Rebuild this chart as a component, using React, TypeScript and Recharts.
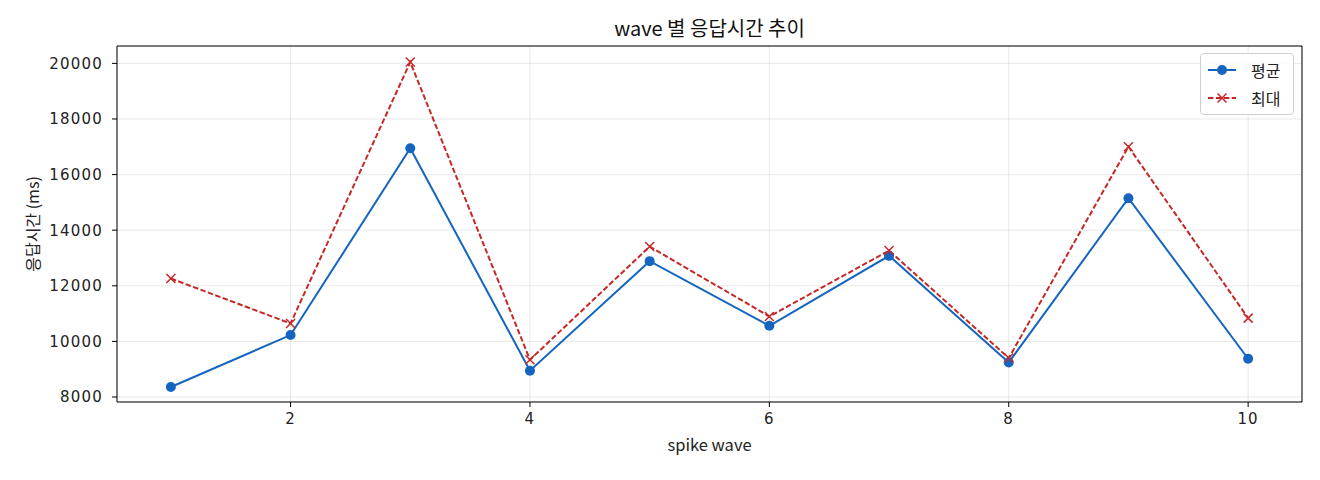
import React from 'react';
import { LineChart, Line, XAxis, YAxis, CartesianGrid, ReferenceLine } from 'recharts';

const waves = [1, 2, 3, 4, 5, 6, 7, 8, 9, 10];
const avgMs = [8359, 10228, 16946, 8945, 12886, 10562, 13077, 9243, 15150, 9376];
const maxMs = [12261, 10644, 20047, 9340, 13411, 10896, 13267, 9401, 17004, 10838];
const xTicks = [2, 4, 6, 8, 10];
const yTicks = [8000, 10000, 12000, 14000, 16000, 18000, 20000];
const xDomain = [0.55, 10.45];
const yDomain = [7820, 20625];

const data = waves.map((w, i) => ({ wave: w, avg: avgMs[i], max: maxMs[i] }));

const BLUE = '#1565C0';
const RED = '#C62828';
const FONT = '"DejaVu Sans", "Noto Sans CJK KR", sans-serif';
const KFONT = '"Noto Sans CJK KR", "DejaVu Sans", sans-serif';

const XDot = (props: any) => {
  const { cx, cy, index } = props;
  if (cx == null || cy == null) return <g key={`x-${index}`} />;
  const s = 4.5;
  return (
    <path
      key={`x-${index}`}
      d={`M${cx - s},${cy - s}L${cx + s},${cy + s}M${cx - s},${cy + s}L${cx + s},${cy - s}`}
      stroke={RED}
      strokeWidth={1.5}
      fill="none"
    />
  );
};

const tickStyle = { fontSize: 15, fill: '#222', fontFamily: FONT, letterSpacing: 1.2 };

export default function App() {
  return (
    <div style={{ position: 'relative', width: 1304, height: 464 }}>
      <div
        style={{
          position: 'absolute',
          left: 109,
          width: 1185,
          top: 7,
          textAlign: 'center',
          fontFamily: KFONT,
          fontSize: 20,
          color: '#111',
          lineHeight: '26px',
        }}
      >
        wave 별 응답시간 추이
      </div>
      <LineChart
        width={1304}
        height={464}
        data={data}
        margin={{ top: 38, right: 10, bottom: 10, left: 9 }}
      >
        <CartesianGrid stroke="#b0b0b0" strokeOpacity={0.35} strokeWidth={0.8} />
        <XAxis
          dataKey="wave"
          type="number"
          domain={xDomain}
          ticks={xTicks}
          allowDataOverflow
          height={60}
          tickSize={5}
          tickMargin={6}
          stroke="#000"
          tick={tickStyle}
          label={{
            value: 'spike wave',
            position: 'insideBottom',
            offset: 11,
            style: { fontSize: 16.5, fill: '#222', fontFamily: KFONT },
          }}
        />
        <YAxis
          type="number"
          domain={yDomain}
          ticks={yTicks}
          allowDataOverflow
          width={100}
          tickSize={5}
          tickMargin={9}
          stroke="#000"
          tick={tickStyle}
          label={{
            value: '응답시간 (ms)',
            angle: -90,
            position: 'insideLeft',
            offset: 16,
            style: { fontSize: 16, fill: '#222', fontFamily: KFONT, textAnchor: 'middle' },
          }}
        />
        <ReferenceLine y={yDomain[1]} stroke="#000" strokeWidth={1} ifOverflow="visible" />
        <ReferenceLine x={xDomain[1]} stroke="#000" strokeWidth={1} ifOverflow="visible" />
        <Line
          dataKey="avg"
          stroke={BLUE}
          strokeWidth={2}
          dot={{ r: 5, fill: BLUE, stroke: BLUE, strokeWidth: 0 }}
          isAnimationActive={false}
        />
        <Line
          dataKey="max"
          stroke={RED}
          strokeWidth={2}
          strokeDasharray="5.5 2.4"
          dot={XDot}
          isAnimationActive={false}
        />
      </LineChart>
      <div
        style={{
          position: 'absolute',
          left: 1192,
          top: 45,
          width: 94,
          height: 62,
          border: '1px solid #d0d0d0',
          borderRadius: 4,
          background: 'rgba(255,255,255,0.85)',
          boxSizing: 'border-box',
          fontFamily: KFONT,
          fontSize: 16,
          color: '#222',
        }}
      >
        <div style={{ position: 'absolute', left: 6, top: 6, height: 20, display: 'flex', alignItems: 'center' }}>
          <svg width={30} height={14}>
            <line x1={1} y1={7} x2={29} y2={7} stroke={BLUE} strokeWidth={2} />
            <circle cx={15} cy={7} r={5} fill={BLUE} />
          </svg>
          <span style={{ marginLeft: 14 }}>평균</span>
        </div>
        <div style={{ position: 'absolute', left: 6, top: 34, height: 20, display: 'flex', alignItems: 'center' }}>
          <svg width={30} height={14}>
            <line x1={1} y1={7} x2={29} y2={7} stroke={RED} strokeWidth={2} strokeDasharray="5.5 2.4" />
            <path d="M10.5,2.5L19.5,11.5M10.5,11.5L19.5,2.5" stroke={RED} strokeWidth={1.5} />
          </svg>
          <span style={{ marginLeft: 14 }}>최대</span>
        </div>
      </div>
    </div>
  );
}
